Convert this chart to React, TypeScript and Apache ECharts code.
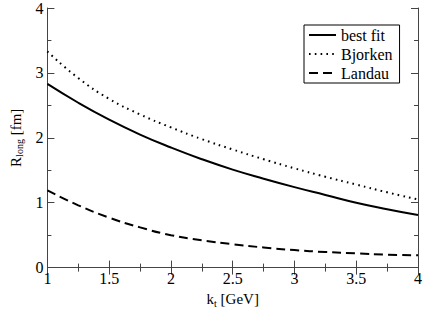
import React, { useEffect, useRef } from "react";
import * as echarts from "echarts";

const kt = [1, 1.25, 1.5, 1.75, 2, 2.25, 2.5, 2.75, 3, 3.25, 3.5, 3.75, 4];
const bestFit = [2.83, 2.54, 2.28, 2.05, 1.85, 1.67, 1.51, 1.37, 1.24, 1.12, 1.0, 0.9, 0.81];
const bjorken = [3.33, 2.92, 2.6, 2.36, 2.16, 1.98, 1.82, 1.67, 1.53, 1.4, 1.28, 1.16, 1.05];
const landau = [1.19, 0.96, 0.77, 0.62, 0.5, 0.42, 0.36, 0.31, 0.27, 0.24, 0.22, 0.2, 0.19];
const xTicks = ["1", "1.5", "2", "2.5", "3", "3.5", "4"];
const yTicks = ["0", "1", "2", "3", "4"];

const FONT = "Liberation Serif";
const AX = "#444";

export default function App() {
  const ref = useRef<HTMLDivElement>(null);
  useEffect(() => {
    if (!ref.current) return;
    const chart = echarts.init(ref.current, null, { renderer: "svg" });
    const pair = (ys: number[]) => kt.map((x, i) => [x, ys[i]]);
    const axisCommon = {
      type: "value" as const,
      axisLine: { show: true, lineStyle: { color: AX, width: 1 } },
      axisTick: { show: true, inside: true, length: 7, lineStyle: { color: AX } },
      minorTick: { show: true, splitNumber: 2, length: 4, lineStyle: { color: AX } },
      splitLine: { show: false },
    };
    const nameStyle = {
      fontFamily: FONT,
      fontSize: 15,
      color: "#000",
      rich: {
        sub: { fontFamily: FONT, fontSize: 10, color: "#000", padding: [8, 0, 0, 0] },
      },
    };
    chart.setOption({
      animation: false,
      backgroundColor: "#fff",
      textStyle: { fontFamily: FONT },
      grid: { left: 38, top: 6, right: 6, bottom: 39, containLabel: false },
      legend: {
        orient: "vertical",
        left: 304,
        top: 25,
        borderColor: "#000",
        borderWidth: 1,
        padding: [2, 7, 2, 4],
        itemGap: 3,
        itemWidth: 27,
        itemHeight: 15,
        itemStyle: { opacity: 0 },
        textStyle: { fontFamily: FONT, fontSize: 16, color: "#000" },
        data: ["best fit", "Bjorken", "Landau"],
      },
      xAxis: [
        {
          ...axisCommon,
          min: 1,
          max: 4,
          interval: 0.5,
          position: "bottom",
          axisLabel: {
            fontFamily: FONT,
            fontSize: 16,
            color: "#000",
            margin: 3,
            formatter: (v: number) => {
              const s = String(v);
              return xTicks.includes(s) ? s : "";
            },
          },
          name: "k{sub|t} [GeV]",
          nameLocation: "middle",
          nameGap: 21,
          nameTextStyle: nameStyle,
        },
        {
          ...axisCommon,
          min: 1,
          max: 4,
          interval: 0.5,
          position: "top",
          axisLabel: { show: false },
        },
      ],
      yAxis: [
        {
          ...axisCommon,
          min: 0,
          max: 4,
          interval: 1,
          position: "left",
          axisLabel: {
            fontFamily: FONT,
            fontSize: 16,
            color: "#000",
            margin: 4,
            formatter: (v: number) => {
              const s = String(v);
              return yTicks.includes(s) ? s : "";
            },
          },
          name: "R{sub|long} [fm]",
          nameLocation: "middle",
          nameGap: 20,
          nameRotate: 90,
          nameTextStyle: nameStyle,
        },
        {
          ...axisCommon,
          min: 0,
          max: 4,
          interval: 1,
          position: "right",
          axisLabel: { show: false },
        },
      ],
      series: [
        {
          name: "best fit",
          type: "line",
          data: pair(bestFit),
          smooth: true,
          symbol: "none",
          lineStyle: { color: "#000", width: 2, type: "solid" },
          itemStyle: { color: "#000" },
        },
        {
          name: "Bjorken",
          type: "line",
          data: pair(bjorken),
          smooth: true,
          symbol: "none",
          lineStyle: { color: "#000", width: 2, type: [1.6, 4.2], cap: "butt" },
          itemStyle: { color: "#000" },
        },
        {
          name: "Landau",
          type: "line",
          data: pair(landau),
          smooth: true,
          symbol: "none",
          lineStyle: { color: "#000", width: 2, type: [9, 5] },
          itemStyle: { color: "#000" },
        },
      ],
    });
    return () => chart.dispose();
  }, []);
  return (
    <div
      ref={ref}
      style={{ position: "fixed", left: 0, top: 0, width: 425, height: 313 }}
    />
  );
}
